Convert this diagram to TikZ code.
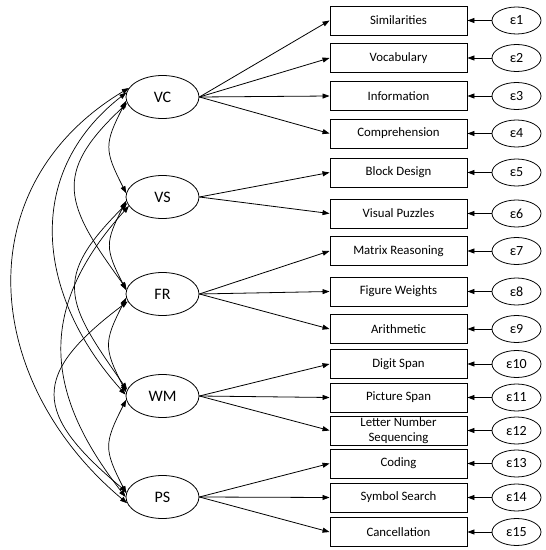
\documentclass[tikz,border=0pt]{standalone}
\usepackage{fontspec}
\setmainfont{Carlito}
\usetikzlibrary{arrows.meta,shapes.geometric}
\begin{document}
\begin{tikzpicture}[x=1pt,y=1pt,
  lat/.style={draw, line width=0.8pt, ellipse, minimum width=73pt, minimum height=43pt, inner sep=0pt, font=\fontsize{16}{18}\selectfont},
  obs/.style={draw, line width=0.9pt, rectangle, minimum width=137pt, minimum height=29pt, inner sep=0pt, align=center, font=\fontsize{12.8}{14.5}\selectfont},
  err/.style={draw, line width=0.8pt, ellipse, minimum width=49pt, minimum height=27pt, inner sep=0pt, font=\fontsize{14}{16}\selectfont},
  arr/.style={-{Triangle[length=7pt,width=5pt]}, line width=0.8pt},
  cov/.style={{Triangle[length=7pt,width=5pt]}-{Triangle[length=7pt,width=5pt]}, line width=0.7pt},
]
\useasboundingbox (0,0) rectangle (546,550);

\node[lat] (VC) at (162.5,453) {VC};
\node[lat] (VS) at (162.5,353) {VS};
\node[lat] (FR) at (162.5,256) {FR};
\node[lat] (WM) at (162.5,154) {WM};
\node[lat] (PS) at (162.5,53) {PS};

\foreach \i/\y/\t in {1/529.5/Similarities, 2/492/Vocabulary, 3/454/Information, 4/416.5/Comprehension,
  5/377.5/Block Design, 6/336.5/Visual Puzzles, 7/299/Matrix Reasoning, 8/258.5/Figure Weights,
  9/221/Arithmetic, 10/186/Digit Span, 11/152.5/Picture Span, 12/119.5/{Letter Number\\Sequencing},
  13/86.5/Coding, 14/52.5/Symbol Search, 15/18/Cancellation}{
  \node[obs] (o\i) at (398.5,\y) {\t};
  \node[err] (e\i) at (516.5,\y) {ε\i};
  \draw[arr] (e\i) -- (o\i);
}

\foreach \l/\i in {VC/1,VC/2,VC/3,VC/4,VS/5,VS/6,FR/7,FR/8,FR/9,WM/10,WM/11,WM/12,PS/13,PS/14,PS/15}{
  \draw[arr] (\l.east) -- (o\i.west);
}

% covariances
\draw[cov] (VC.186) to[out=243,in=117,looseness=1.35] (VS.174);
\draw[cov] (VS.186) to[out=243,in=117,looseness=1.35] (FR.174);
\draw[cov] (FR.186) to[out=243,in=117,looseness=1.35] (WM.174);
\draw[cov] (WM.186) to[out=243,in=117,looseness=1.35] (PS.174);
\draw[cov] (VC.190) to[out=223,in=126,looseness=1.43] (FR.172);
\draw[cov] (VS.190) to[out=225,in=125,looseness=1.47] (WM.170);
\draw[cov] (FR.192) to[out=217,in=140,looseness=1.64] (PS.172);
\draw[cov] (VC.173) to[out=218,in=132,looseness=1.12] (WM.178);
\draw[cov] (VS.195) to[out=228,in=128,looseness=1.19] (PS.180);
\draw[cov] (VC.165) to[out=211,in=140,looseness=1.17] (PS.190);
\end{tikzpicture}
\end{document}
